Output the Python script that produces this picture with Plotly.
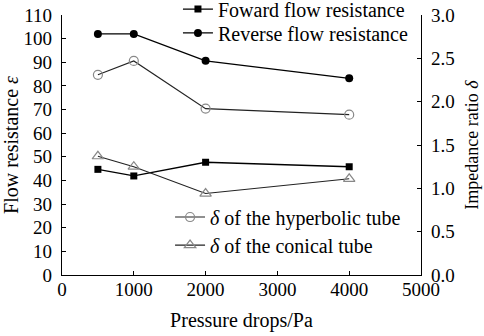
import plotly.graph_objects as go

pressure = [500, 1000, 2000, 4000]
forward = [44.7, 41.9, 47.7, 45.8]
reverse = [102.0, 102.0, 90.6, 83.2]
hyperbolic = [2.31, 2.47, 1.92, 1.85]
conical = [1.37, 1.25, 0.94, 1.11]

FONT = "Liberation Serif"
fig = go.Figure()
fig.add_trace(go.Scatter(x=pressure, y=forward, mode="lines+markers", name="Foward flow resistance",
                         line=dict(color="black", width=1.3), marker=dict(symbol="square", size=7, color="black"),
                         legend="legend"))
fig.add_trace(go.Scatter(x=pressure, y=reverse, mode="lines+markers", name="Reverse flow resistance",
                         line=dict(color="black", width=1.3), marker=dict(symbol="circle", size=8, color="black"),
                         legend="legend2"))
fig.add_trace(go.Scatter(x=pressure, y=hyperbolic, mode="lines+markers", name="<i>δ</i> of the hyperbolic tube",
                         line=dict(color="#222", width=1.1), yaxis="y2",
                         marker=dict(symbol="circle-open", size=9, color="#888", line=dict(width=1.2)),
                         legend="legend3"))
fig.add_trace(go.Scatter(x=pressure, y=conical, mode="lines+markers", name="<i>δ</i> of the conical tube",
                         line=dict(color="#222", width=1.1), yaxis="y2",
                         marker=dict(symbol="triangle-up-open", size=10, color="#888", line=dict(width=1.2)),
                         legend="legend4"))

axis_common = dict(showline=True, linecolor="black", linewidth=1.3, ticks="inside", ticklen=4,
                   tickcolor="black", tickwidth=1.3, showgrid=False, zeroline=False, automargin=False,
                   tickfont=dict(family=FONT, size=19, color="black"))
leg = dict(xanchor="left", yanchor="middle", bgcolor="rgba(0,0,0,0)", font=dict(family=FONT, size=20))
fig.update_layout(
    width=484, height=336, plot_bgcolor="white", paper_bgcolor="white",
    margin=dict(l=62, r=63, t=15, b=61, autoexpand=False),
    font=dict(family=FONT, size=19, color="black"),
    xaxis=dict(range=[0, 5000], dtick=1000, ticklabelstandoff=-3,
               title=dict(text="Pressure drops/Pa", font=dict(family=FONT, size=20), standoff=14), **axis_common),
    yaxis=dict(range=[0, 110], dtick=10, ticklabelstandoff=5,
               title=dict(text="Flow resistance <i>ε</i>", font=dict(family=FONT, size=20), standoff=4), **axis_common),
    yaxis2=dict(range=[0, 3], dtick=0.5, tickformat=".1f", overlaying="y", side="right", ticklabelstandoff=5,
                title=dict(text="Impedance ratio <i>δ</i>", font=dict(family=FONT, size=18), standoff=11), **axis_common),
    legend=dict(x=0.323, y=0.973, yref="container", **leg),
    legend2=dict(x=0.323, y=0.902, yref="container", **leg),
    legend3=dict(x=0.301, y=0.223, **leg),
    legend4=dict(x=0.301, y=0.115, **leg),
    showlegend=True,
)
fig.write_html("out.html", config={"displayModeBar": False}, post_script="document.body.style.margin='0';")
